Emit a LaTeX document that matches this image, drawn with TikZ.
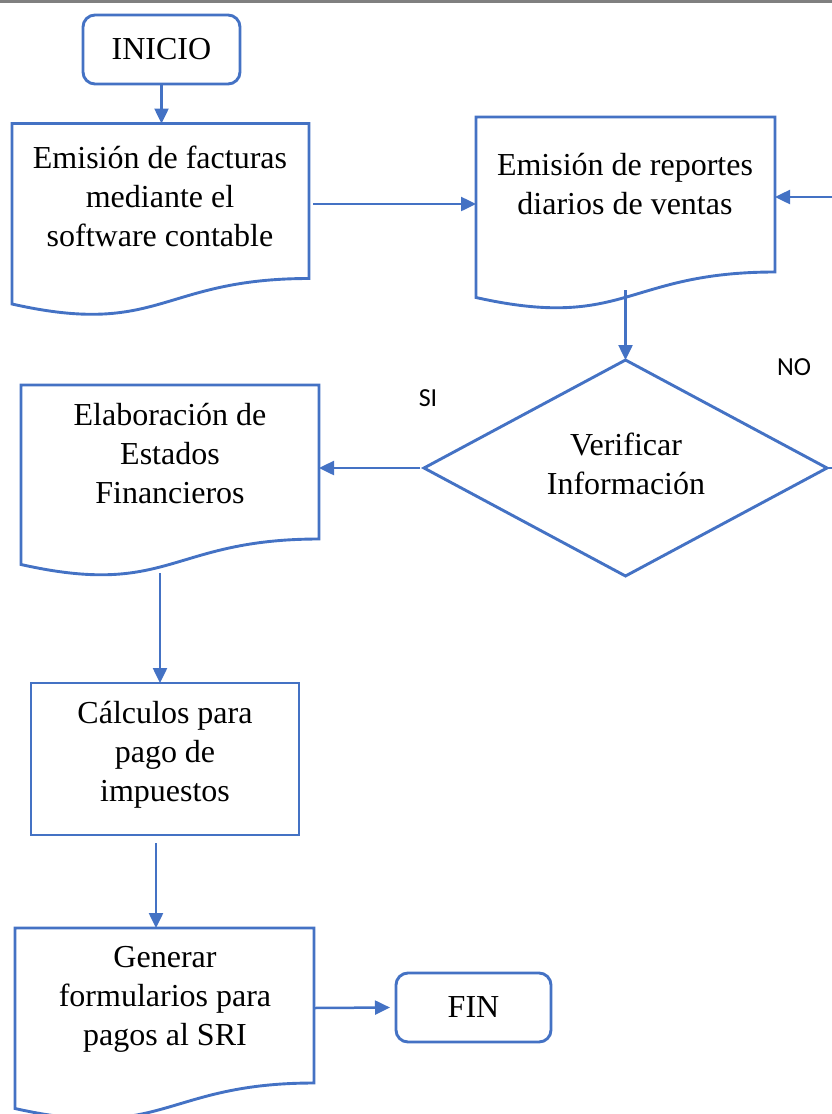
\documentclass[tikz,border=0pt]{standalone}
\usepackage{fontspec}
\setmainfont{Liberation Serif}
\newfontfamily\labfont{Carlito}
\usetikzlibrary{shapes.geometric,arrows.meta,calc}
\definecolor{fb}{HTML}{4472C4}
\newcommand\mydocshape[1]{\draw[frame] (#1.north west) -- (#1.north east) -- (#1.south east) .. controls (#1.south) and ($(#1.south)+(0,59)$) .. ($(#1.south west)+(0,25.5)$) -- cycle;}
\begin{document}
\begin{tikzpicture}[x=1pt,y=-1pt,
 every node/.style={font=\fontsize{32}{39}\selectfont, align=center, inner sep=0pt, outer sep=0pt},
 frame/.style={draw=fb, line width=2.9pt},
 term/.style={frame, rounded corners=12pt, minimum width=157pt, minimum height=69pt},
 docbox/.style={minimum width=297pt, minimum height=155pt},
 procbox/.style={frame, minimum width=268pt, minimum height=152pt},
 arr/.style={draw=fb, line width=2.5pt, -{Triangle[length=15pt,width=14pt]}},
 lab/.style={font=\labfont\fontsize{26}{30}\selectfont},
]
\path[use as bounding box] (0,0) rectangle (832,1114);
\fill[black!50] (0,0) rectangle (832,2.5);

\node[term] (ini) at (161.5,49.5) {INICIO};

\node[docbox] (d1) at (160.5,201) {};
\mydocshape{d1}
\node (t1) at (160,196) {Emisión de facturas\\mediante el\\software contable};

\node[docbox, minimum width=299pt] (d2) at (625.5,194.5) {};
\mydocshape{d2}
\node (t2) at (625,184.5) {Emisión de reportes\\diarios de ventas};

\node[diamond, frame, minimum width=403pt, minimum height=216pt] (dia) at (625.5,468) {};
\node (t3) at (626,463.5) {Verificar\\Información};

\node[docbox, minimum width=298pt, minimum height=154pt] (d3) at (170,462) {};
\mydocshape{d3}
\node (t3b) at (170,454) {Elaboración de\\Estados\\Financieros};

\node[procbox] (c1) at (165,759) {};
\node (t5) at (165,754.5) {Cálculos para\\pago de\\impuestos};

\node[docbox, minimum width=299pt] (d4) at (164.5,1005.5) {};
\mydocshape{d4}
\node (t4) at (165,999) {Generar\\formularios para\\pagos al SRI};

\node[term, minimum width=155pt] (fin) at (473.5,1007.5) {FIN};

\node[lab] (no) at (794,367) {NO};
\node[lab] (si) at (428,398) {SI};

\coordinate (edge) at (832,197);

\draw[arr] (ini.south) -- (ini.south |- d1.north);
\draw[arr] ($(d1.east)+(4,3)$) -- ($(d2.west |- d1.east)+(0,3)$);
\draw[arr] (edge) -- (edge -| d2.east);
\draw[arr] ($(d2.south)+(0,18)$) -- (dia.north);
\draw[draw=fb, line width=2.5pt] (dia.east) -- (dia.east -| edge);
\draw[arr] ($(dia.west)+(-4,0)$) -- (dia.west -| d3.east);
\draw[arr] ($(d3.south)+(-10,34)$) -- ($(c1.north)+(-5,0)$);
\draw[arr] ($(c1.south)+(-9,8)$) -- ($(d4.north)+(-8.5,0)$);
\draw[arr] ($(d4.east)+(0,2.5)$) -- ($(fin.west)+(-6,0)$);
\end{tikzpicture}
\end{document}
